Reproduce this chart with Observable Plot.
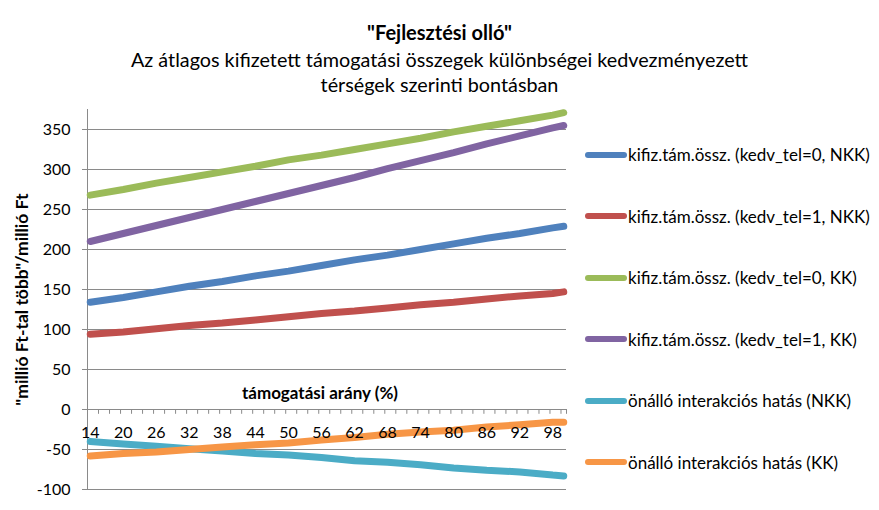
<!DOCTYPE html>
<html><head><meta charset="utf-8">
<script src="https://cdn.jsdelivr.net/npm/d3@7"></script>
<script src="https://cdn.jsdelivr.net/npm/@observablehq/plot@0.6"></script>
<style>
body{margin:0;background:#fff;font-family:Lato,"Open Sans",sans-serif;color:#000;}
#wrap{position:relative;width:879px;height:510px;overflow:hidden;}
.tl{position:absolute;left:0;width:879px;text-align:center;white-space:nowrap;line-height:1.2;}
#t1{top:20px;font-size:20px;font-weight:bold;}
#t2{top:48px;font-size:19.8px;}
#t3{top:73px;font-size:19.8px;}
#legend{position:absolute;left:585px;top:124px;}
.item{height:61.5px;display:flex;align-items:center;font-size:17px;white-space:nowrap;}
.sw{width:42px;height:6px;border-radius:3px;margin-right:1px;}
</style></head><body>
<div id="wrap"></div>
<script>
const titleText = "\"Fejlesztési olló\"";
const subtitleLines = ["Az átlagos kifizetett támogatási összegek különbségei kedvezményezett", "térségek szerinti bontásban"];
const yTitle = "\"millió Ft-tal több\"/millió Ft";
const xTitle = "támogatási arány (%)";

const xValues = [14, 20, 26, 32, 38, 44, 50, 56, 62, 68, 74, 80, 86, 92, 98, 100];
const xLabels = [14, 20, 26, 32, 38, 44, 50, 56, 62, 68, 74, 80, 86, 92, 98];
const yTicks = [-100, -50, 0, 50, 100, 150, 200, 250, 300, 350];

const kedv0NKK = [134, 140, 147, 154, 160, 167, 173, 180, 187, 193, 200, 207, 214, 220, 227, 229];
const kedv1NKK = [94, 97, 101, 105, 108, 112, 116, 120, 123, 127, 131, 134, 138, 142, 145, 147];
const kedv0KK  = [268, 275, 283, 290, 297, 304, 312, 318, 325, 332, 339, 347, 354, 361, 368, 371];
const kedv1KK  = [210, 220, 230, 240, 250, 260, 270, 280, 290, 301, 311, 321, 332, 342, 352, 355];
const interNKK = [-40, -43, -46, -49, -52, -55, -57, -60, -64, -66, -69, -73, -76, -78, -82, -83];
const interKK  = [-58, -55, -53, -50, -47, -44, -42, -38, -35, -31, -28, -26, -22, -19, -16, -16];

const seriesNames = [
  "kifiz.tám.össz. (kedv_tel=0, NKK)",
  "kifiz.tám.össz. (kedv_tel=1, NKK)",
  "kifiz.tám.össz. (kedv_tel=0, KK)",
  "kifiz.tám.össz. (kedv_tel=1, KK)",
  "önálló interakciós hatás (NKK)",
  "önálló interakciós hatás (KK)"
];
const seriesValues = [kedv0NKK, kedv1NKK, kedv0KK, kedv1KK, interNKK, interKK];
const seriesColors = ["#4F81BD", "#C0504D", "#9BBB59", "#8064A2", "#4BACC6", "#F79646"];

const data = [];
seriesNames.forEach((s, i) => xValues.forEach((x, j) => data.push({series: s, x, value: seriesValues[i][j]})));

const xMin = 13.5, xMax = 100.5;
const xTickPos = d3.range(xMin, xMax, 2).concat([xMax]);
const gridColor = "#8a8a8a";

const wrap = document.getElementById("wrap");

const plot = Plot.plot({
  width: 879, height: 510,
  marginLeft: 87, marginRight: 313, marginTop: 109, marginBottom: 21,
  x: {domain: [xMin, xMax], axis: null},
  y: {domain: [-100, 375], axis: null},
  color: {domain: seriesNames, range: seriesColors},
  style: {fontFamily: "Lato, 'Open Sans', sans-serif", fontSize: "16px", color: "#000", background: "transparent"},
  marks: [
    Plot.ruleY(yTicks, {stroke: gridColor, strokeWidth: 1}),
    Plot.ruleX([xMin], {y1: -100, y2: 375, stroke: gridColor}),
    Plot.axisY({ticks: yTicks, tickSize: 5, tickPadding: 12, stroke: gridColor, fontSize: 16, tickFormat: d => String(d), anchor: "left", label: null}),
    Plot.ruleX(xTickPos, {y1: 0, y2: -6, stroke: gridColor}),
    Plot.line(data, {x: "x", y: "value", z: "series", stroke: "series", strokeWidth: 7, strokeLinecap: "round", strokeLinejoin: "round"}),
    Plot.text(xLabels, {x: d => d, y: 0, dy: 23, text: d => String(d), fontSize: 16, fill: "#000"}),
    Plot.text([xTitle], {x: (xMin + xMax) / 2, y: 0, dx: -7, dy: -16, text: d => d, fontWeight: "bold", fontSize: 17, fill: "#000"}),
    Plot.text([yTitle], {frameAnchor: "left", dx: -65, rotate: -90, textAnchor: "middle", text: d => d, fontWeight: "bold", fontSize: 17.5, fill: "#000"})
  ]
});
wrap.appendChild(plot);

const t1 = document.createElement("div"); t1.className = "tl"; t1.id = "t1"; t1.textContent = titleText; wrap.appendChild(t1);
subtitleLines.forEach((line, i) => {
  const d = document.createElement("div"); d.className = "tl"; d.id = "t" + (i + 2); d.textContent = line; wrap.appendChild(d);
});

const legend = document.createElement("div"); legend.id = "legend";
seriesNames.forEach((s, i) => {
  const it = document.createElement("div"); it.className = "item";
  const sw = document.createElement("div"); sw.className = "sw"; sw.style.background = seriesColors[i];
  const tx = document.createElement("span"); tx.textContent = s;
  it.appendChild(sw); it.appendChild(tx); legend.appendChild(it);
});
wrap.appendChild(legend);
</script>
</body></html>
